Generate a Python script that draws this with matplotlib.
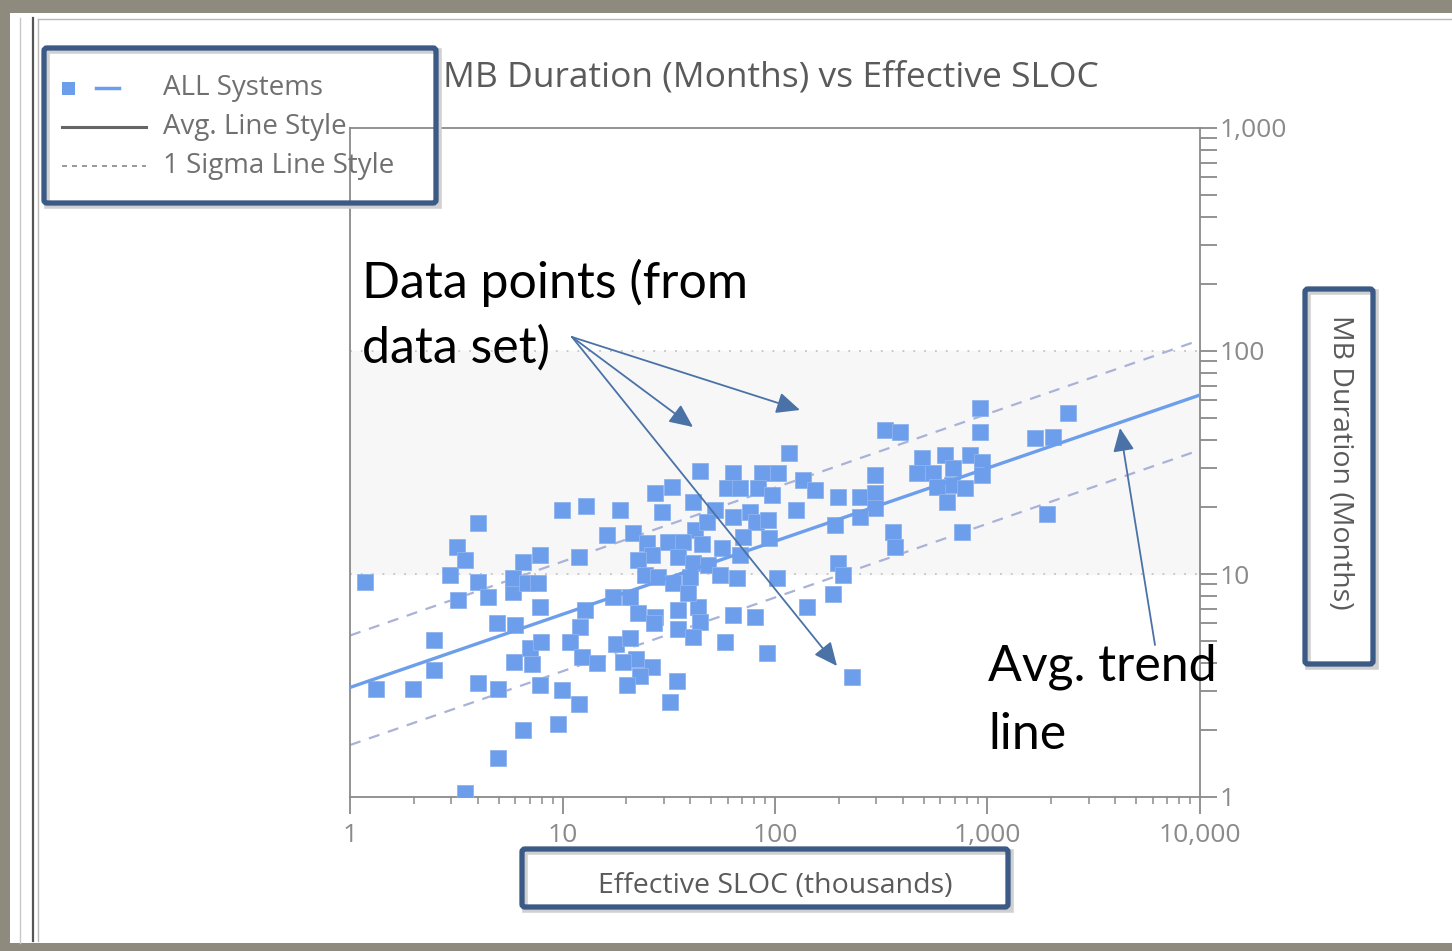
import matplotlib
matplotlib.use('Agg')
import matplotlib.pyplot as plt
from matplotlib.patches import Rectangle, FancyBboxPatch
from matplotlib.ticker import LogLocator, FixedLocator, FixedFormatter, NullFormatter

W, H = 1452, 951
plt.rcParams['font.family'] = ['Open Sans', 'DejaVu Sans']
NOTE_FONT = ['Lato', 'DejaVu Sans']

# effective SLOC (thousands) and MB duration (months)
sloc = [1.18, 1.33, 1.98, 2.48, 2.48, 2.96, 3.19, 3.48, 4.0, 4.0, 3.22, 4.46, 4.92, 5.98, 4.0,
        4.97, 5.91, 7.03, 7.92, 7.18, 6.52, 4.97, 3.48, 5.85, 5.85, 6.52, 7.84, 6.81, 7.67, 7.84,
        7.84, 9.5, 9.95, 11.9, 9.95, 12.9, 11.9, 12.8, 12.1, 10.8, 12.4, 14.5,
        44.4, 63.4, 86.9, 103, 59.4, 68.4, 83.2, 96.8, 32.7, 27.2, 18.7, 29.4, 41.1, 52.2, 63.4,
        76.3, 81.4, 92.7, 42.0, 47.9, 70.7, 93.7, 16.2, 21.5, 25.0, 31.4, 36.9, 45.3, 56.3, 68.4,
        26.4, 22.7, 35.0, 41.1, 48.4, 24.5, 28.1, 33.1, 39.8, 55.1, 66.2, 102, 17.3, 20.8, 22.7,
        27.2, 35.0, 43.4, 39.0, 63.4, 80.5,
        27.0, 35.0, 44.4, 41.1, 58.2, 91.7, 17.9, 20.8, 22.2, 26.4, 19.3, 23.2, 20.1, 34.6, 32.1,
        116, 135, 154, 126, 198, 251, 296, 296, 296, 192, 251, 359, 367, 198, 209, 188, 141, 230,
        329, 387, 492, 466, 554, 631, 688, 828, 942, 942, 681, 784, 579, 645, 759, 922, 922,
        1675, 2034, 2393, 1905]
duration = [9.2, 3.05, 3.05, 5.06, 3.71, 9.9, 13.2, 11.6, 16.9, 9.2, 7.65, 7.88, 6.03, 5.91, 3.25,
            3.05, 4.03, 4.66, 4.96, 3.95, 2.0, 1.50, 1.04, 8.3, 9.6, 11.3, 12.2, 9.1, 9.1, 7.11,
            3.18, 2.13, 3.02, 2.61, 19.4, 20.2, 11.9, 6.9, 5.78, 4.96, 4.24, 3.99,
            29.0, 28.4, 28.4, 28.4, 24.3, 24.3, 24.3, 22.6, 24.5, 23.1, 19.4, 19.0, 21.0, 19.4, 18.0,
            19.0, 17.1, 17.5, 15.7, 17.1, 14.7, 14.5, 15.0, 15.3, 13.8, 13.9, 13.9, 13.6, 13.1, 12.2,
            12.2, 11.6, 11.9, 11.2, 11.0, 9.9, 9.7, 9.1, 9.7, 9.9, 9.6, 9.6, 7.88, 7.88, 6.68,
            6.41, 6.9, 7.11, 8.22, 6.55, 6.41,
            6.03, 5.67, 6.09, 5.22, 4.96, 4.42, 4.85, 5.16, 4.16, 3.83, 4.03, 3.49, 3.18, 3.31, 2.67,
            34.9, 26.4, 23.8, 19.4, 22.2, 22.2, 27.8, 23.1, 19.8, 16.6, 18.0, 15.4, 13.2, 11.2, 9.9,
            8.13, 7.11, 3.45, 44.2, 43.3, 33.1, 28.4, 28.4, 34.2, 29.9, 34.2, 31.8, 27.8, 25.1,
            24.3, 24.5, 21.0, 15.4, 55.5, 43.3, 40.7, 41.1, 52.7, 18.6]

# average trend and +/- 1 sigma lines (end points)
trend_x = [1, 10000]
trend_avg = [3.1, 63.5]
trend_hi = [5.3, 112]
trend_lo = [1.71, 36]

x_ticks = [1, 10, 100, 1000, 10000]
x_tick_labels = ['1', '10', '100', '1,000', '10,000']
y_ticks = [1, 10, 100, 1000]
y_tick_labels = ['1', '10', '100', '1,000']

BLUE = '#6d9eeb'
SIGMA = '#aab2d8'
AXIS_GRAY = '#8a8a8a'
TEXT_GRAY = '#5a5a5a'
BOX_BLUE = '#3b5b86'
ARROW = '#4a72a6'

fig = plt.figure(figsize=(W / 100, H / 100), dpi=100)
fig.patch.set_facecolor('white')

# main chart axes
ax = fig.add_axes([350 / W, (H - 797) / H, 850 / W, 669 / H])
ax.set_xscale('log')
ax.set_yscale('log')
ax.set_xlim(1, 10000)
ax.set_ylim(1, 1000)
ax.axhspan(10, 100, color='#f7f7f7', zorder=0)
for yv in (10, 100):
    ax.axhline(yv, color='#c4c4c4', lw=1.3, ls=(0, (1, 5)), zorder=1)

ax.plot(trend_x, trend_hi, color=SIGMA, lw=1.6, ls=(0, (5, 4)), zorder=2)
ax.plot(trend_x, trend_lo, color=SIGMA, lw=1.6, ls=(0, (5, 4)), zorder=2)
ax.plot(sloc, duration, ls='none', marker='s', ms=11, mfc=BLUE, mec='#8fb3ee', mew=0.6, zorder=3)
ax.plot(trend_x, trend_avg, color=BLUE, lw=2.4, zorder=4)

for sp in ax.spines.values():
    sp.set_color(AXIS_GRAY)
    sp.set_linewidth(1.3)

ax.yaxis.tick_right()
ax.xaxis.set_major_locator(FixedLocator(x_ticks))
ax.xaxis.set_major_formatter(FixedFormatter(x_tick_labels))
ax.xaxis.set_minor_locator(LogLocator(base=10, subs=range(2, 10)))
ax.xaxis.set_minor_formatter(NullFormatter())
ax.yaxis.set_major_locator(FixedLocator(y_ticks))
ax.yaxis.set_major_formatter(FixedFormatter(y_tick_labels))
ax.yaxis.set_minor_locator(LogLocator(base=10, subs=range(2, 10)))
ax.yaxis.set_minor_formatter(NullFormatter())
ax.tick_params(axis='x', which='major', direction='out', length=12, width=1.3, color=AXIS_GRAY,
               labelsize=19, labelcolor='#8a8a8a', pad=7)
ax.tick_params(axis='x', which='minor', direction='out', length=5, width=1.1, color=AXIS_GRAY)
ax.tick_params(axis='y', which='both', direction='out', length=12, width=1.3, color=AXIS_GRAY,
               labelsize=19, labelcolor='#8a8a8a', pad=2)

# overlay in pixel units for frame, legend and callouts
ov = fig.add_axes([0, 0, 1, 1], zorder=10)
ov.set_xlim(0, W)
ov.set_ylim(H, 0)
ov.axis('off')
ov.patch.set_alpha(0)

# screenshot frame
frame_col = '#8e8a7d'
ov.add_patch(Rectangle((0, 0), W, 13, color=frame_col, lw=0))
ov.add_patch(Rectangle((0, 0), 10, H, color=frame_col, lw=0))
ov.add_patch(Rectangle((0, H - 8), W, 8, color=frame_col, lw=0))
ov.plot([20, 20], [18, H - 8], color='#c8c8c8', lw=1)
ov.plot([33, 33], [18, H - 10], color='#555555', lw=1.6)
ov.plot([38, W], [19, 19], color='#b8b8b8', lw=1)
ov.plot([38, 38], [19, H - 10], color='#b8b8b8', lw=1)

ov.text(443, 77, 'MB Duration (Months) vs Effective SLOC', fontsize=25.5, color=TEXT_GRAY,
        ha='left', va='center')


def callout_box(x0, y0, x1, y1):
    ov.add_patch(Rectangle((x0 + 3, y0 + 3), x1 - x0, y1 - y0, fill=False,
                           ec='#d0d0d0', lw=4, zorder=1))
    ov.add_patch(FancyBboxPatch((x0, y0), x1 - x0, y1 - y0, boxstyle='round,pad=0,rounding_size=3',
                                fill=False, ec=BOX_BLUE, lw=3.8, zorder=2))


# legend
callout_box(44, 48, 436, 203)
ov.add_patch(Rectangle((62, 82), 13, 13, color=BLUE, lw=0))
ov.plot([96, 119], [88, 88], color=BLUE, lw=2.5)
ov.plot([62, 146], [127, 127], color='#666666', lw=2.2)
ov.plot([62, 146], [166, 166], color='#888888', lw=1.2, ls=(0, (3, 3)))
leg_labels = ['ALL Systems', 'Avg. Line Style', '1 Sigma Line Style']
for lab, yy in zip(leg_labels, [88, 127, 166]):
    ov.text(163, yy, lab, fontsize=20, color='#707070', ha='left', va='center')

# axis labels with boxes
callout_box(522, 849, 1008, 907)
ov.text(775, 886, 'Effective SLOC (thousands)', fontsize=20.5, color=TEXT_GRAY,
        ha='center', va='center')
callout_box(1305, 289, 1373, 664)
ov.text(1340, 462, 'MB Duration (Months)', fontsize=20.5, color=TEXT_GRAY,
        ha='center', va='center', rotation=270)

# annotations
ov.text(362, 283, 'Data points (from', fontsize=36, color='black', family=NOTE_FONT,
        ha='left', va='center')
ov.text(362, 348, 'data set)', fontsize=36, color='black', family=NOTE_FONT,
        ha='left', va='center')
ov.text(988, 667, 'Avg. trend', fontsize=36, color='black', family=NOTE_FONT,
        ha='left', va='center')
ov.text(988, 735, 'line', fontsize=36, color='black', family=NOTE_FONT,
        ha='left', va='center')
arrow_kw = dict(arrowstyle='-|>,head_length=0.55,head_width=0.25', color=ARROW, lw=1.3,
                mutation_scale=26, shrinkA=0, shrinkB=0)
for tip in [(693, 427), (800, 410), (837, 666)]:
    ov.annotate('', xy=tip, xytext=(572, 337), arrowprops=arrow_kw)
ov.annotate('', xy=(1120, 428), xytext=(1155, 645), arrowprops=arrow_kw)

fig.savefig('out.png', dpi=100)
